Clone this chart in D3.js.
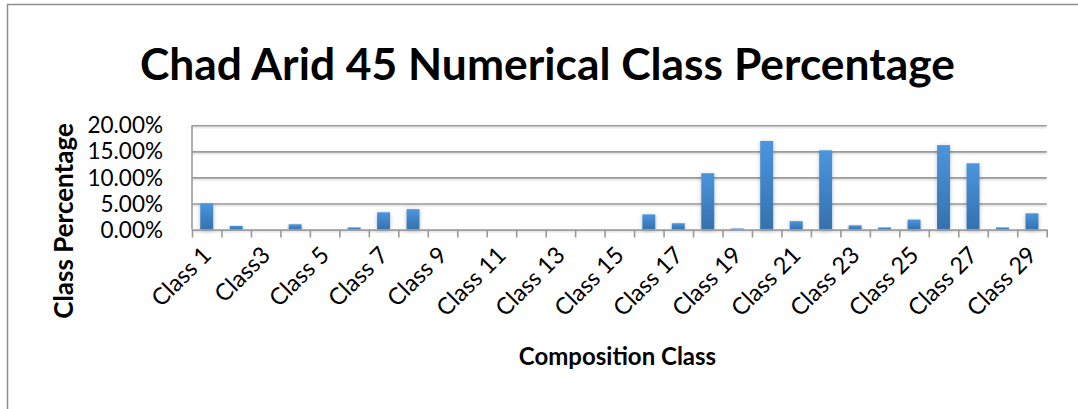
<!DOCTYPE html>
<html>
<head>
<meta charset="utf-8">
<script src="https://cdn.jsdelivr.net/npm/d3@7"></script>
<style>
  html, body { margin: 0; padding: 0; background: #fff; }
  svg { display: block; font-family: Lato, "Open Sans", sans-serif; }
</style>
</head>
<body>
<svg id="chart" width="1078" height="409"></svg>
<script>
// Composition classes (only every other name is printed on the axis)
const categories = [
  "Class 1", "Class 2", "Class3", "Class 4", "Class 5", "Class 6", "Class 7", "Class 8",
  "Class 9", "Class 10", "Class 11", "Class 12", "Class 13", "Class 14", "Class 15",
  "Class 16", "Class 17", "Class 18", "Class 19", "Class 20", "Class 21", "Class 22",
  "Class 23", "Class 24", "Class 25", "Class 26", "Class 27", "Class 28", "Class 29"
];
// Share of each class (fraction of total)
const percentages = [
  0.050, 0.007, 0.000, 0.010, 0.000, 0.004, 0.033, 0.039,
  0.000, 0.000, 0.000, 0.000, 0.000, 0.000, 0.000,
  0.029, 0.012, 0.108, 0.002, 0.170, 0.016, 0.152,
  0.008, 0.004, 0.019, 0.162, 0.127, 0.004, 0.031
];
const yTicks = [0, 0.05, 0.10, 0.15, 0.20];
const labelledCategories = categories.filter((d, i) => i % 2 === 0);

const title = "Chad Arid 45 Numerical Class Percentage";
const xTitle = "Composition Class";
const yTitle = "Class Percentage";

const svg = d3.select("#chart");
const plotLeft = 192, plotRight = 1046.7, plotTop = 125.3, plotBottom = 229.5;

const defs = svg.append("defs");
const grad = defs.append("linearGradient")
  .attr("id", "barFill").attr("x1", 0).attr("y1", 0).attr("x2", 0).attr("y2", 1);
grad.append("stop").attr("offset", "0%").attr("stop-color", "#4b95de");
grad.append("stop").attr("offset", "100%").attr("stop-color", "#3571ad");

const shadow = defs.append("filter").attr("id", "soft")
  .attr("x", "-50%").attr("y", "-20%").attr("width", "200%").attr("height", "140%");
shadow.append("feDropShadow").attr("dx", 0).attr("dy", 1).attr("stdDeviation", 2)
  .attr("flood-color", "#000").attr("flood-opacity", 0.25);

const lineShadow = defs.append("filter").attr("id", "lineSoft")
  .attr("filterUnits", "userSpaceOnUse")
  .attr("x", 0).attr("y", 0).attr("width", 1078).attr("height", 409);
lineShadow.append("feDropShadow").attr("dx", 0).attr("dy", 1).attr("stdDeviation", 1)
  .attr("flood-color", "#000").attr("flood-opacity", 0.2);

// Outer chart frame (top and left edges)
svg.append("path")
  .attr("d", "M7.5,409 V4.5 H1078")
  .attr("fill", "none").attr("stroke", "#8e8e8e").attr("stroke-width", 1.5);

// Scales
const x = d3.scaleBand().domain(categories).range([plotLeft, plotRight])
  .paddingInner(0.56).paddingOuter(0.28);
const boundary = d3.scaleLinear().domain([0, categories.length]).range([plotLeft, plotRight]);
const y = d3.scaleLinear().domain([0, 0.20]).range([plotBottom, plotTop]);

// Horizontal gridlines with outward ticks
const yAxis = svg.append("g")
  .attr("transform", `translate(${plotLeft},0)`)
  .call(d3.axisLeft(y).tickValues(yTicks).tickSize(-(plotRight - plotLeft)).tickSizeOuter(0).tickFormat(""));
yAxis.select(".domain").remove();
yAxis.selectAll(".tick line")
  .attr("x1", -9)
  .attr("stroke", "#9a9a9a").attr("stroke-width", 1.6)
  .attr("filter", "url(#lineSoft)");

// Vertical axis line
svg.append("line")
  .attr("x1", plotLeft).attr("x2", plotLeft).attr("y1", y(0.20)).attr("y2", y(0))
  .attr("stroke", "#9a9a9a").attr("stroke-width", 1.6);

// Y tick labels
svg.append("g").selectAll("text").data(yTicks).join("text")
  .attr("x", 163).attr("y", d => y(d)).attr("dy", "0.36em")
  .attr("text-anchor", "end").attr("font-size", 22.5).attr("fill", "#000")
  .text(d => (d * 100).toFixed(2) + "%");

// Bars
svg.append("g").selectAll("rect").data(percentages).join("rect")
  .attr("x", (d, i) => x(categories[i]))
  .attr("width", x.bandwidth())
  .attr("y", d => y(d))
  .attr("height", d => y(0) - y(d))
  .attr("fill", "url(#barFill)")
  .attr("filter", "url(#soft)");

// Category axis with ticks at class boundaries
const xAxis = svg.append("g")
  .attr("transform", `translate(0,${plotBottom})`)
  .call(d3.axisBottom(boundary).tickValues(d3.range(categories.length + 1))
    .tickSize(8).tickSizeOuter(0).tickFormat(""));
xAxis.select(".domain").attr("stroke", "#9a9a9a").attr("stroke-width", 1.6);
xAxis.selectAll(".tick line").attr("stroke", "#9a9a9a").attr("stroke-width", 1.6);

// Rotated category labels
svg.append("g").selectAll("text").data(labelledCategories).join("text")
  .attr("transform", d => `translate(${x(d) + x.bandwidth() / 2 + 6},${plotBottom + 27}) rotate(-45)`)
  .attr("text-anchor", "end").attr("font-size", 23.5).attr("fill", "#000")
  .text(d => d);

// Titles
svg.append("text")
  .attr("x", 547.5).attr("y", 80)
  .attr("text-anchor", "middle").attr("font-size", 44).attr("font-weight", "bold")
  .attr("textLength", 815).attr("lengthAdjust", "spacingAndGlyphs")
  .text(title);

svg.append("text")
  .attr("x", 617.5).attr("y", 365)
  .attr("text-anchor", "middle").attr("font-size", 24).attr("font-weight", "bold")
  .text(xTitle);

svg.append("text")
  .attr("transform", "translate(73,221) rotate(-90)")
  .attr("text-anchor", "middle").attr("font-size", 26).attr("font-weight", "bold")
  .text(yTitle);
</script>
</body>
</html>
